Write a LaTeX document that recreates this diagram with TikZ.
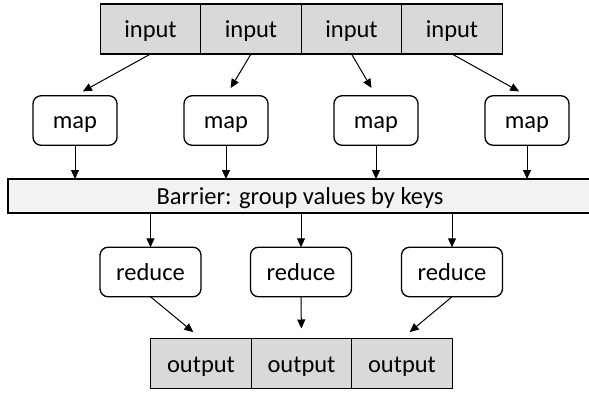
\documentclass[tikz,border=0pt]{standalone}
\usepackage{fontspec}
\setmainfont{Carlito}
\usetikzlibrary{arrows.meta}
\definecolor{cellgray}{HTML}{D9D9D9}
\definecolor{bargray}{HTML}{F2F2F2}
\begin{document}
\begin{tikzpicture}[x=1pt,y=-1pt,
  every node/.style={font=\fontsize{24.5}{29}\selectfont, inner sep=0pt, outer sep=0pt, text height=17pt, text depth=0pt},
  cell/.style={draw=black, line width=1.3pt, fill=cellgray, minimum width=100.5pt, minimum height=50pt},
  task/.style={draw=black, line width=1.3pt, fill=white, rounded corners=8pt, minimum height=49.5pt},
  barrierbox/.style={draw=black, line width=1.3pt, fill=bargray, minimum width=582pt, minimum height=34pt},
  flow/.style={line width=1pt, -{Triangle[length=9pt,width=8pt]}}
]
\useasboundingbox (0,0) rectangle (589,393);
% inputs
\node[cell] (in1) at (150.5,29) {input};
\node[cell] (in2) at (251,29) {input};
\node[cell] (in3) at (351.5,29) {input};
\node[cell] (in4) at (452,29) {input};
% maps
\node[task, minimum width=84pt] (m1) at (75,120.5) {map};
\node[task, minimum width=84pt] (m2) at (226,120.5) {map};
\node[task, minimum width=84pt] (m3) at (376,120.5) {map};
\node[task, minimum width=84pt] (m4) at (527,120.5) {map};
% barrier
\node[barrierbox] (bar) at (299,196) {};
\node (bartext) at (300,196) {Barrier: group values by keys};
% reduces
\node[task, minimum width=101pt] (r1) at (150.5,272) {reduce};
\node[task, minimum width=101pt] (r2) at (301,272) {reduce};
\node[task, minimum width=101pt] (r3) at (452,272) {reduce};
% outputs
\node[cell] (o1) at (201,363.5) {output};
\node[cell] (o2) at (301.5,363.5) {output};
\node[cell] (o3) at (402,363.5) {output};
% input -> map
\foreach \i in {1,2,3,4}{
  \draw[flow, shorten >=9pt] (in\i.south) -- (m\i.north);
  \draw[flow] (m\i.south) -- (m\i.south |- bar.north);
}
% barrier -> reduce
\foreach \i in {1,2,3}{
  \draw[flow] (r\i.north |- bar.south) -- (r\i.north);
  \draw[flow, shorten >=10pt] (r\i.south) -- (o\i.north);
}
\end{tikzpicture}
\end{document}
